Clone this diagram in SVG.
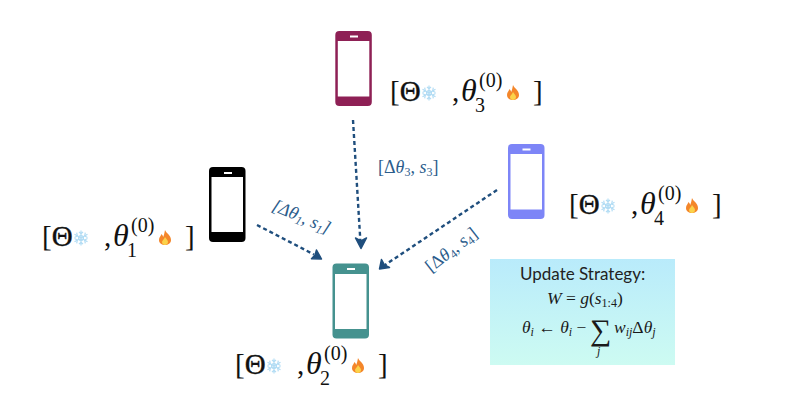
<svg xmlns="http://www.w3.org/2000/svg" width="808" height="414" viewBox="0 0 808 414">
<style>
.m{font-family:"Liberation Serif",serif;fill:#111;font-size:29px}
.o{stroke:#111;stroke-width:.35}
.t{font-size:32px;font-style:italic}
.s{font-size:20px}
.e{font-family:"Liberation Serif",serif;fill:#2c5d8c;font-size:18px}
.f{font-family:"Liberation Serif",serif;fill:#1a1a1a;font-size:17.500px}
.u{font-size:12px}
.i{font-style:italic}
.a{fill:none;stroke:#1f4e7d;stroke-width:2.400;stroke-dasharray:4 3}
.h{fill:#1f4e7d;stroke:#1f4e7d;stroke-width:1.500;stroke-linejoin:round}
.sn{stroke:#b2dcf4;stroke-width:1.200;fill:none}
</style>
<defs>
<linearGradient id="g" x1="0" y1="0" x2="0" y2="1"><stop offset="0" stop-color="#b9ebfb"/><stop offset="1" stop-color="#cdfbf2"/></linearGradient>
<g id="icons">
<g class="sn" transform="translate(39,-8)">
<circle r="2.500" fill="#e0f2fb"/>
<path d="M0-7.500V7.500M-6.500-3.700L6.500 3.700M-6.500 3.700L6.500-3.700M-2-6.200L0-4.200L2-6.200M-2 6.200L0 4.200L2 6.200"/>
<path d="M-6.500-.5L-3.700-2L-4.300-5.300M6.500 .5L3.700 2L4.300 5.300M6.500-.5L3.700-2L4.300-5.300M-6.500 .5L-3.700 2L-4.300 5.300"/>
</g>
<g transform="translate(123,-8)">
<path d="M0-8C1-5 6-3 6 2C6 5.500 3 7 0 7C-3 7-6 5.500-6 2C-6-1-4-2-3.500-4C-2.500-3-2-2-1.800-1C-1-3-.5-5 0-8Z" fill="#f4862a"/>
<path d="M0-1C1 1 3 2 3 4C3 6 1.500 7 0 7C-1.500 7-3 6-3 4C-3 2.500-1 1.500 0-1Z" fill="#fbd24a"/>
</g>
</g>
</defs>

<g id="connectors">
<path class="a" d="M353 120L360.300 240"/><path class="h" d="M355.500 238L361 248.500L366.500 238L360.800 241Z"/>
<path class="a" d="M257 225L314 254.500"/><path class="h" d="M311.500 258.800L321.500 259L316.500 250L315 255Z"/>
<path class="a" d="M497 190L385 265"/><path class="h" d="M381.500 259.500L379.500 269L389.500 267.500L384.500 265Z"/>
</g>

<g id="phone-1"><rect x="209" y="167" width="36.500" height="75" rx="4" fill="#000"/><rect x="211.500" y="177" width="31.500" height="55" fill="#fff"/><rect x="224" y="172" width="8" height="2" fill="#fff"/></g>
<g id="phone-2"><rect x="332.500" y="263.500" width="36.500" height="75" rx="4" fill="#45928f"/><rect x="335" y="274" width="31.500" height="55" fill="#fff"/><rect x="347" y="268" width="8" height="2" fill="#fff"/></g>
<g id="phone-3"><rect x="335.300" y="31" width="36.500" height="75" rx="4" fill="#8e2055"/><rect x="337.800" y="41" width="31.500" height="55.500" fill="#fff"/><rect x="350" y="35.500" width="8" height="2" fill="#fff"/></g>
<g id="phone-4"><rect x="508" y="144" width="36.500" height="75" rx="4" fill="#7d85f7"/><rect x="510.500" y="154" width="31.500" height="55.500" fill="#fff"/><rect x="522.500" y="148.500" width="8" height="2" fill="#fff"/></g>

<g id="label-1" transform="translate(42,246)"><use href="#icons"/>
<text class="m"><tspan x="0" y="0">[</tspan><tspan class="o" x="9.700" y="0">Θ</tspan><tspan x="62" y="0">,</tspan><tspan class="t" x="71" y="0">θ</tspan><tspan class="s" x="89" y="-14">(0)</tspan><tspan class="s" x="85" y="10.500">1</tspan><tspan x="143" y="0">]</tspan></text>
</g>
<g id="label-2" transform="translate(235,374)"><use href="#icons"/>
<text class="m"><tspan x="0" y="0">[</tspan><tspan class="o" x="9.700" y="0">Θ</tspan><tspan x="62" y="0">,</tspan><tspan class="t" x="71" y="0">θ</tspan><tspan class="s" x="89" y="-14">(0)</tspan><tspan class="s" x="85" y="10.500">2</tspan><tspan x="143" y="0">]</tspan></text>
</g>
<g id="label-3" transform="translate(390,101)"><use href="#icons"/>
<text class="m"><tspan x="0" y="0">[</tspan><tspan class="o" x="9.700" y="0">Θ</tspan><tspan x="62" y="0">,</tspan><tspan class="t" x="71" y="0">θ</tspan><tspan class="s" x="89" y="-14">(0)</tspan><tspan class="s" x="85" y="10.500">3</tspan><tspan x="143" y="0">]</tspan></text>
</g>
<g id="label-4" transform="translate(569,214)"><use href="#icons"/>
<text class="m"><tspan x="0" y="0">[</tspan><tspan class="o" x="9.700" y="0">Θ</tspan><tspan x="62" y="0">,</tspan><tspan class="t" x="71" y="0">θ</tspan><tspan class="s" x="89" y="-14">(0)</tspan><tspan class="s" x="85" y="10.500">4</tspan><tspan x="143" y="0">]</tspan></text>
</g>

<g id="edge-label-3"><text class="e" x="378" y="172.500">[Δ<tspan class="i">θ</tspan><tspan class="u" dy="3">3</tspan><tspan dy="-3">, </tspan><tspan class="i">s</tspan><tspan class="u" dy="3">3</tspan><tspan dy="-3">]</tspan></text></g>
<g id="edge-label-1" transform="translate(271,210) rotate(23)"><text class="e i" x="0" y="0">[Δθ<tspan class="u" dy="3">1</tspan><tspan dy="-3">, s</tspan><tspan class="u" dy="3">1</tspan><tspan dy="-3">]</tspan></text></g>
<g id="edge-label-4" transform="translate(431,273) rotate(-38)"><text class="e" x="0" y="0">[Δ<tspan class="i">θ</tspan><tspan class="u" dy="3">4</tspan><tspan dy="-3">, </tspan><tspan class="i">s</tspan><tspan class="u" dy="3">4</tspan><tspan dy="-3">]</tspan></text></g>

<g id="update-strategy">
<rect x="490" y="259" width="185" height="106" fill="url(#g)"/>
<text x="520" y="279.500" font-family="Lato,sans-serif" font-size="17" fill="#222">Update Strategy:</text>
<text class="f" x="547" y="304"><tspan class="i">W</tspan> = <tspan class="i">g</tspan>(<tspan class="i">s</tspan><tspan class="u" dy="3">1:4</tspan><tspan dy="-3">)</tspan></text>
<text class="f" x="522" y="333"><tspan class="i">θ</tspan><tspan class="i u" dy="3">i</tspan><tspan dy="-3"> ← </tspan><tspan class="i">θ</tspan><tspan class="i u" dy="3">i</tspan><tspan dy="-3"> −</tspan><tspan x="590" y="340" style="font-size:30px">∑</tspan><tspan class="i u" x="597" y="355">j</tspan><tspan x="614" y="333"><tspan class="i">w</tspan><tspan class="i u" dy="3">ij</tspan><tspan dy="-3">Δ</tspan><tspan class="i">θ</tspan><tspan class="i u" dy="3">j</tspan></tspan></text>
</g>
</svg>
